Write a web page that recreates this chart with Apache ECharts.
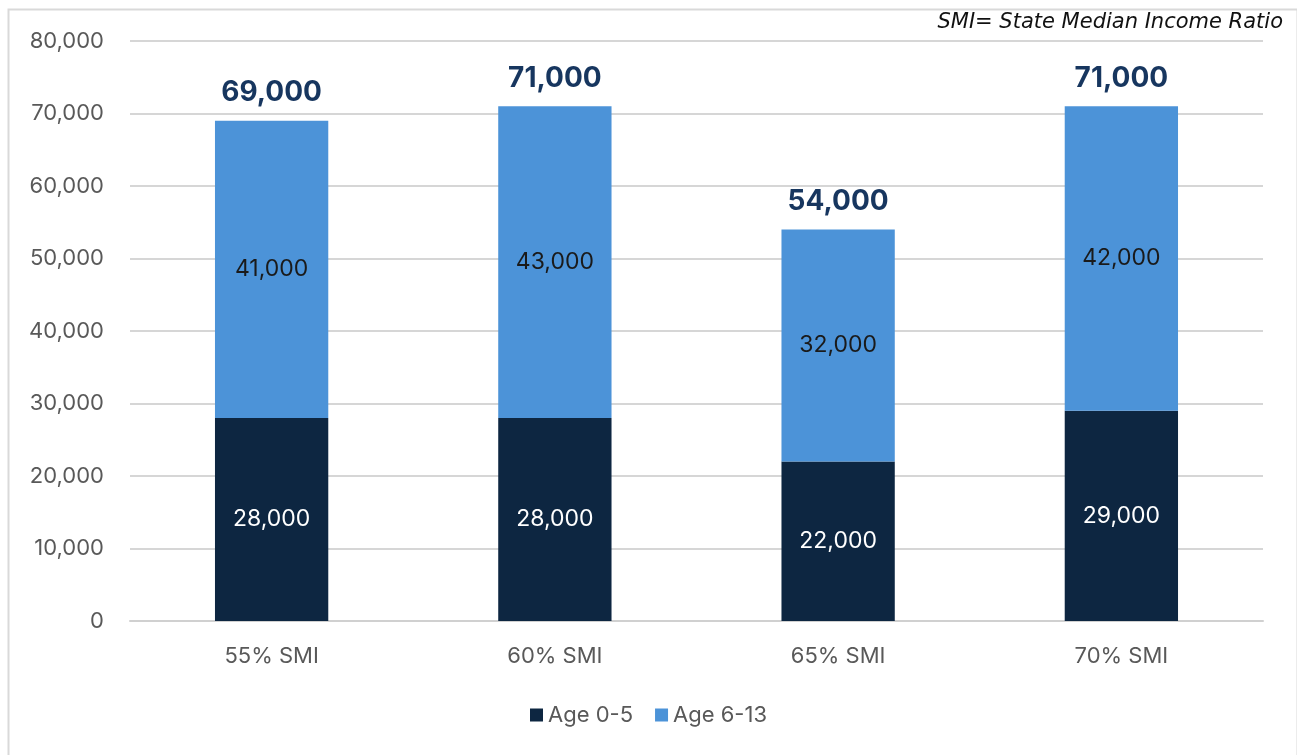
<!DOCTYPE html>
<html>
<head>
<meta charset="utf-8">
<script src="https://cdn.jsdelivr.net/npm/echarts@6/dist/echarts.min.js"></script>
<style>
  html, body { margin: 0; padding: 0; background: #ffffff; }
  #chart { width: 1297px; height: 755px; }
</style>
</head>
<body>
<div id="chart"></div>
<script>
// Enrollment by income threshold, split by age group
const categories = ['55% SMI', '60% SMI', '65% SMI', '70% SMI'];
const age0to5 = [28000, 28000, 22000, 29000];
const age6to13 = [41000, 43000, 32000, 42000];
const yTicks = { min: 0, max: 80000, interval: 10000 };
const note = 'SMI= State Median Income Ratio';

const totals = age0to5.map((v, i) => v + age6to13[i]);
const fmt = v => v.toLocaleString('en-US');

const chart = echarts.init(document.getElementById('chart'));
chart.setOption({
  animation: false,
  textStyle: { fontFamily: 'Inter' },
  graphic: [
    {
      type: 'rect',
      left: 6, top: 7,
      shape: { width: 1289, height: 760 },
      style: { fill: 'none', stroke: '#d9d9d9', lineWidth: 2 },
      silent: true
    },
    {
      type: 'text',
      right: 14, top: 12,
      style: {
        text: note,
        fontFamily: 'DejaVu Sans',
        fontStyle: 'italic',
        fontSize: 21,
        fill: '#111111'
      }
    }
  ],
  grid: { left: 130, right: 34, top: 41, bottom: 134, containLabel: false },
  legend: {
    bottom: 24,
    left: 'center',
    itemWidth: 13,
    itemHeight: 13,
    itemGap: 22,
    icon: 'rect',
    textStyle: { fontSize: 22, color: '#595959', fontFamily: 'Inter' },
    data: ['Age 0-5', 'Age 6-13']
  },
  xAxis: {
    type: 'category',
    data: categories,
    axisLine: { show: true, lineStyle: { color: '#d0d0d0', width: 2 } },
    axisTick: { show: false },
    axisLabel: { fontSize: 22, color: '#595959', margin: 24 }
  },
  yAxis: {
    type: 'value',
    min: yTicks.min,
    max: yTicks.max,
    interval: yTicks.interval,
    axisLine: { show: false },
    axisTick: { show: false },
    splitLine: { lineStyle: { color: '#d6d6d6', width: 2 } },
    axisLabel: { fontSize: 22, color: '#595959', margin: 26, formatter: v => fmt(v) }
  },
  series: [
    {
      name: 'Age 0-5',
      type: 'bar',
      stack: 'total',
      data: age0to5,
      barWidth: '40%',
      itemStyle: { color: '#0d2641' },
      label: {
        show: true,
        position: 'inside',
        color: '#ffffff',
        fontSize: 23,
        formatter: p => fmt(p.value)
      }
    },
    {
      name: 'Age 6-13',
      type: 'bar',
      stack: 'total',
      data: age6to13,
      barWidth: '40%',
      itemStyle: { color: '#4c93d8' },
      label: {
        show: true,
        position: 'inside',
        color: '#1a1a1a',
        fontSize: 23,
        formatter: p => fmt(p.value)
      }
    },
    {
      // totals drawn above each stack
      name: 'Total',
      type: 'bar',
      stack: 'total',
      data: totals.map(() => 0),
      barWidth: '40%',
      itemStyle: { color: 'transparent' },
      label: {
        show: true,
        position: 'top',
        distance: 14,
        color: '#17365f',
        fontSize: 28,
        fontWeight: 'bold',
        formatter: p => fmt(totals[p.dataIndex])
      }
    }
  ]
});
</script>
</body>
</html>
